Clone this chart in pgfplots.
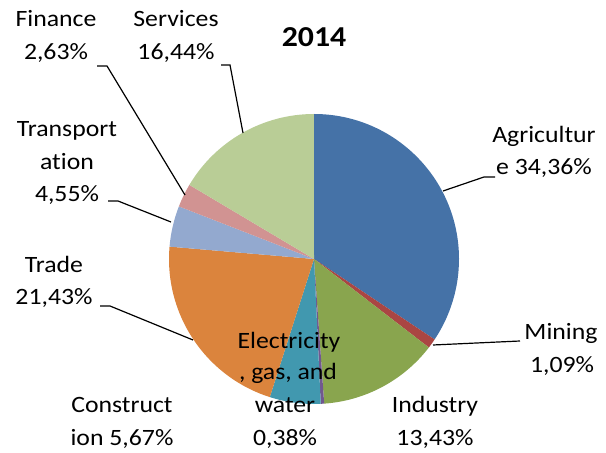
\documentclass[border=0pt]{standalone}
\usepackage{pgfplots}
\pgfplotsset{compat=1.18}
\usepackage{fontspec}
\setmainfont{Carlito}[Ligatures=NoCommon, FakeStretch=1.1]

\definecolor{cAgri}{HTML}{4572A7}
\definecolor{cMin}{HTML}{AA4643}
\definecolor{cInd}{HTML}{89A54E}
\definecolor{cEle}{HTML}{71588F}
\definecolor{cCon}{HTML}{4198AF}
\definecolor{cTra}{HTML}{DB843D}
\definecolor{cTrn}{HTML}{93A9CF}
\definecolor{cFin}{HTML}{D19392}
\definecolor{cSer}{HTML}{B9CD96}

% share (%) / colour, clockwise from 12 o'clock
\def\pieslices{34.36/cAgri, 1.09/cMin, 13.43/cInd, 0.38/cEle, 5.67/cCon,
  21.43/cTra, 4.55/cTrn, 2.63/cFin, 16.44/cSer}

\tikzset{lbl/.style={anchor=base, inner sep=0pt, font=\fontsize{23.5}{28}\selectfont}}

\begin{document}
\begin{tikzpicture}
\begin{axis}[
    width=606bp, height=453bp,
    scale only axis,
    xmin=0, xmax=606, ymin=0, ymax=453,
    hide axis,
    clip=false,
]
\path (axis cs:0,0) rectangle (axis cs:606,453);
\pgfplotsextra{
  \xdef\cum{90}
  \foreach \v/\c in \pieslices {
    \pgfmathsetmacro\a{\cum-3.6*\v}
    \fill[\c] (axis cs:314,194) -- ++(\cum:145bp)
      arc[start angle=\cum, end angle=\a, radius=145bp] -- cycle;
    \xdef\cum{\a}
  }
}
% leader lines
\draw[line width=1.2bp] (axis cs:443,262) -- (axis cs:484,276) -- (axis cs:495,276);
\draw[line width=1.2bp] (axis cs:433,108) -- (axis cs:520,112);
\draw[line width=1.2bp] (axis cs:243,320) -- (axis cs:230,388) -- (axis cs:221,388);
\draw[line width=1.2bp] (axis cs:185,258) -- (axis cs:107,387) -- (axis cs:97,387);
\draw[line width=1.2bp] (axis cs:108,252) -- (axis cs:118,252) -- (axis cs:171,231);
\draw[line width=1.2bp] (axis cs:100,147) -- (axis cs:110,147) -- (axis cs:193,113);
% labels
\node[anchor=base, inner sep=0pt, font=\fontsize{29}{32}\selectfont\bfseries] at (axis cs:314,406) {2014};
\node[lbl] at (axis cs:56,426) {Finance};
\node[lbl] at (axis cs:56,393) {2,63\%};
\node[lbl] at (axis cs:176,426) {Services};
\node[lbl] at (axis cs:176,393) {16,44\%};
\node[lbl] at (axis cs:67,316) {Transport};
\node[lbl] at (axis cs:67,283) {ation};
\node[lbl] at (axis cs:67,251) {4,55\%};
\node[lbl] at (axis cs:54,180) {Trade};
\node[lbl] at (axis cs:54,148) {21,43\%};
\node[lbl] at (axis cs:122,40) {Construct};
\node[lbl] at (axis cs:122,8) {ion 5,67\%};
\node[lbl] at (axis cs:289,104) {Electricity};
\node[lbl] at (axis cs:288,73) {, gas, and};
\node[lbl] at (axis cs:285,40) {water};
\node[lbl] at (axis cs:285,8) {0,38\%};
\node[lbl] at (axis cs:435,40) {Industry};
\node[lbl] at (axis cs:435,8) {13,43\%};
\node[lbl] at (axis cs:561,113) {Mining};
\node[lbl] at (axis cs:562,80) {1,09\%};
\node[lbl] at (axis cs:544,310) {Agricultur};
\node[lbl] at (axis cs:544,278) {e 34,36\%};
\end{axis}
\end{tikzpicture}
\end{document}
